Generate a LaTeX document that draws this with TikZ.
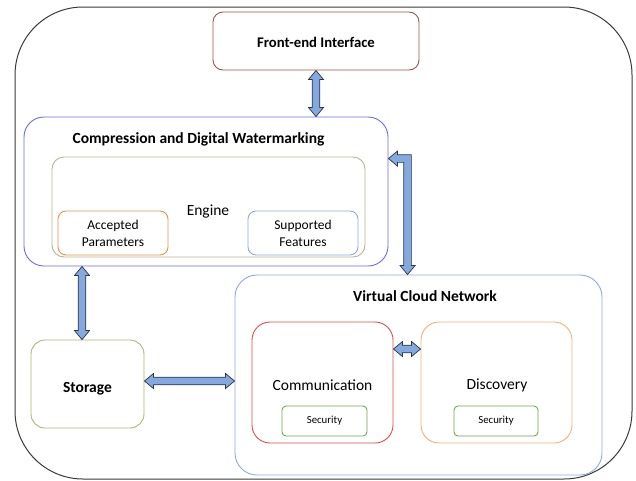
\documentclass[tikz,border=0pt]{standalone}
\usepackage{fontspec}
\setmainfont{Carlito}
\usetikzlibrary{calc}
\definecolor{framec}{HTML}{3A3A3A}
\definecolor{fec}{HTML}{A0524D}
\definecolor{cdwc}{HTML}{6B6BF2}
\definecolor{engc}{HTML}{BDB38E}
\definecolor{apc}{HTML}{E8924A}
\definecolor{sfc}{HTML}{8FAADC}
\definecolor{stc}{HTML}{A8B878}
\definecolor{vcnc}{HTML}{8FAADC}
\definecolor{commc}{HTML}{E04B4B}
\definecolor{discc}{HTML}{F2B07A}
\definecolor{secc}{HTML}{6BA84F}
\definecolor{arrowfill}{HTML}{84A9E0}
\definecolor{arrowline}{HTML}{2E3440}
\tikzset{
  box/.style={draw, line width=0.9pt, fill=white, inner sep=0pt, align=center},
  blockarrow/.style={draw=arrowline, line width=0.7pt, fill=arrowfill, line join=miter},
  ttl/.style={font=\bfseries\fontsize{15.5}{18}\selectfont},
  lbl/.style={font=\fontsize{13.5}{17}\selectfont, align=center},
  big/.style={font=\fontsize{15.5}{18}\selectfont},
  small/.style={font=\fontsize{10.8}{12}\selectfont},
}
\newcommand{\vdarrow}[2]{\draw[blockarrow] let \p1=(#1), \p2=(#2) in
  (\x1,\y1) -- (\x1+7.5pt,\y1-9pt) -- (\x1+3.8pt,\y1-9pt) -- (\x1+3.8pt,\y2+9pt) -- (\x1+7.5pt,\y2+9pt) -- (\x1,\y2) -- (\x1-7.5pt,\y2+9pt) -- (\x1-3.8pt,\y2+9pt) -- (\x1-3.8pt,\y1-9pt) -- (\x1-7.5pt,\y1-9pt) -- cycle;}
\newcommand{\hdarrow}[2]{\draw[blockarrow] let \p1=(#1), \p2=(#2) in
  (\x1,\y1) -- (\x1+9pt,\y1+7.5pt) -- (\x1+9pt,\y1+3.8pt) -- (\x2-9pt,\y1+3.8pt) -- (\x2-9pt,\y1+7.5pt) -- (\x2,\y1) -- (\x2-9pt,\y1-7.5pt) -- (\x2-9pt,\y1-3.8pt) -- (\x1+9pt,\y1-3.8pt) -- (\x1+9pt,\y1-7.5pt) -- cycle;}
\newcommand{\elbowarrow}[2]{\draw[blockarrow] let \p1=(#1), \p2=(#2) in
  (\x1,\y1) -- (\x1+9pt,\y1+7.5pt) -- (\x1+9pt,\y1+3.8pt) -- (\x2+3.8pt,\y1+3.8pt) -- (\x2+3.8pt,\y2+9pt) -- (\x2+7.5pt,\y2+9pt) -- (\x2,\y2) -- (\x2-7.5pt,\y2+9pt) -- (\x2-3.8pt,\y2+9pt) -- (\x2-3.8pt,\y1-3.8pt) -- (\x1+9pt,\y1-3.8pt) -- (\x1+9pt,\y1-7.5pt) -- cycle;}
\begin{document}
\begin{tikzpicture}[x=1pt,y=-1pt]
\useasboundingbox (0,0) rectangle (636,480);
% outer frame
\node[draw=framec, line width=1pt, rounded corners=68pt, minimum width=617pt, minimum height=472pt, inner sep=0pt] (frame) at (323.5,243) {};
% front-end
\node[box, draw=fec, rounded corners=10pt, minimum width=206pt, minimum height=58pt] (fe) at (316,41) {};
\node[ttl, font=\bfseries\fontsize{14.7}{17}\selectfont] (fet) at (316,42.5) {Front-end Interface};
% compression
\node[box, draw=cdwc, rounded corners=20pt, minimum width=364pt, minimum height=149pt] (cdw) at (206,191.5) {};
\node[ttl] (cdwt) at (198.5,139) {Compression and Digital Watermarking};
\node[box, draw=engc, rounded corners=12pt, minimum width=313pt, minimum height=100pt] (eng) at (208.5,207) {};
\node[big] (engt) at (208,211) {Engine};
\node[box, draw=apc, rounded corners=8pt, minimum width=110pt, minimum height=44pt, lbl] (ap) at (113,233) {Accepted\\Parameters};
\node[box, draw=sfc, rounded corners=8pt, minimum width=110pt, minimum height=44pt, lbl] (sf) at (303,233) {Supported\\Features};
% storage
\node[box, draw=stc, rounded corners=14pt, minimum width=113pt, minimum height=88pt] (st) at (87.5,384) {};
\node[ttl] (stt) at (87.5,389) {Storage};
% VCN
\node[box, draw=vcnc, rounded corners=22pt, minimum width=367pt, minimum height=200pt] (vcn) at (418.5,375) {};
\node[ttl] (vcnt) at (425,296.5) {Virtual Cloud Network};
\node[box, draw=commc, rounded corners=18pt, minimum width=141pt, minimum height=121pt] (comm) at (322.5,382.5) {};
\node[big] (commt) at (322.5,385.5) {Communication};
\node[box, draw=discc, rounded corners=18pt, minimum width=151pt, minimum height=121pt] (disc) at (496.5,382.5) {};
\node[big] (disct) at (497,385.5) {Discovery};
\node[box, draw=secc, rounded corners=4pt, minimum width=85pt, minimum height=30pt, small] (sec1) at (324.5,421) {Security};
\node[box, draw=secc, rounded corners=4pt, minimum width=84pt, minimum height=30pt, small] (sec2) at (496,421) {Security};
% connectors
\vdarrow{fe.south}{cdw.north}
\coordinate (sa) at ($(st.north)+(-5.5,0)$);
\vdarrow{sa |- cdw.south}{sa}
\coordinate (sb) at ($(st.east)+(0,-3)$);
\hdarrow{sb}{sb -| vcn.west}
\coordinate (cc) at ($(comm.east)+(0,-33.5)$);
\hdarrow{cc}{cc -| disc.west}
\coordinate (ea) at ($(cdw.north east)+(0,42)$);
\coordinate (eb) at ($(vcn.north west)+(173,0)$);
\elbowarrow{ea}{eb}
\end{tikzpicture}
\end{document}
